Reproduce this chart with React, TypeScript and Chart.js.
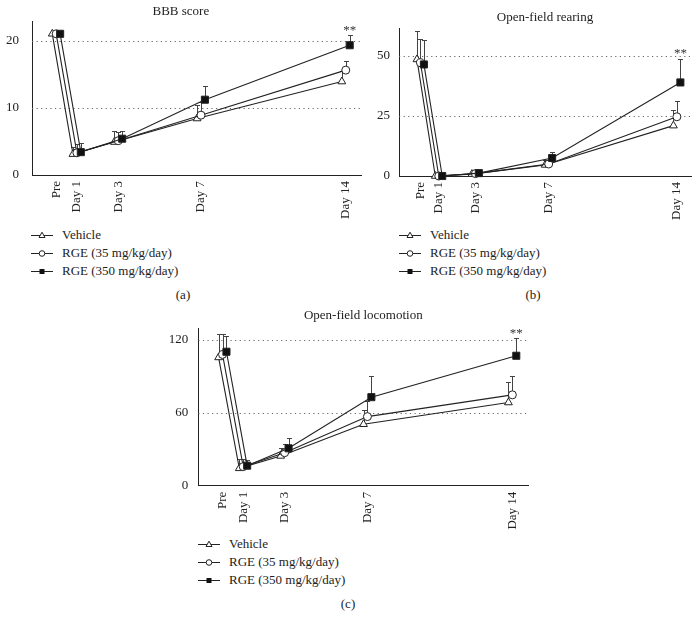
import React, { useEffect, useRef } from "react";
import { Chart, registerables } from "chart.js";

Chart.register(...registerables);

const FONT = "'Liberation Serif', 'Times New Roman', serif";
const INK = "#222";

// ---------- data ----------
const dayLabels = ["Pre", "Day 1", "Day 3", "Day 7", "Day 14"];
const dayValues = [0, 1, 3, 7, 14];
const seriesNames = ["Vehicle", "RGE (35 mg/kg/day)", "RGE (350 mg/kg/day)"];
const dodge = [-0.19, 0, 0.19];

// (a) BBB score
const bbbVehicle = [21.0, 3.1, 4.9, 8.4, 13.9];
const bbbVehicleErr = [0, 1.1, 1.7, 2.0, 1.6];
const bbbLow = [21.0, 3.3, 5.1, 8.9, 15.6];
const bbbLowErr = [0, 1.3, 1.3, 1.9, 1.3];
const bbbHigh = [21.0, 3.4, 5.4, 11.2, 19.3];
const bbbHighErr = [0, 1.4, 1.1, 2.0, 1.5];
const bbbTicks = [0, 10, 20];

// (b) Open-field rearing
const rearVehicle = [48.6, 0, 0.8, 4.6, 21.0];
const rearVehicleErr = [11.9, 0, 0.8, 2.2, 6.5];
const rearLow = [47.2, 0, 1.0, 5.0, 24.7];
const rearLowErr = [9.8, 0, 0.8, 1.5, 6.4];
const rearHigh = [46.5, 0, 1.2, 7.5, 39.0];
const rearHighErr = [10.2, 0, 0.8, 2.5, 9.8];
const rearTicks = [0, 25, 50];

// (c) Open-field locomotion
const locoVehicle = [105.6, 14.3, 24.5, 50.6, 68.5];
const locoVehicleErr = [19.3, 7.5, 6.8, 11.8, 16.8];
const locoLow = [108.1, 15.7, 27.2, 56.9, 74.8];
const locoLowErr = [16.8, 6.1, 7.2, 13.2, 15.9];
const locoHigh = [110.3, 16.5, 30.8, 72.9, 107.0];
const locoHighErr = [12.7, 4.7, 8.8, 17.8, 14.3];
const locoTicks = [0, 60, 120];

// significance marks: [series index, day index, text]
const sigMarks: [number, number, string][] = [[2, 4, "**"]];

// ---------- styles ----------
const markerStyle = ["triangle", "circle", "rect"];
const markerRadius = [4.5, 4, 5];
const markerFill = ["#fff", "#fff", "#111"];

type Spec = {
  title: string;
  caption: string;
  values: number[][];
  errors: number[][];
  ticks: number[];
  yMax: number;
  left: number;
  top: number;
  w: number;
  h: number;
  yAxisW: number;
  padRight: number;
  titleTop: number;
  titleBottom: number;
  titleFull: boolean;
  xAxisH: number;
  yPad: number;
  legendX: number;
  legendTextX: number;
  legendY: number;
  capX: number;
  capY: number;
};

const panels: Spec[] = [
  {
    title: "BBB score", caption: "(a)",
    values: [bbbVehicle, bbbLow, bbbHigh],
    errors: [bbbVehicleErr, bbbLowErr, bbbHighErr],
    ticks: bbbTicks, yMax: 22.8,
    left: 0, top: 0, w: 370, h: 225,
    yAxisW: 32, padRight: 8.3, titleTop: 4, titleBottom: 2.1, titleFull: true,
    xAxisH: 50, yPad: 13,
    legendX: 31, legendTextX: 62, legendY: 234.5, capX: 183, capY: 296,
  },
  {
    title: "Open-field rearing", caption: "(b)",
    values: [rearVehicle, rearLow, rearHigh],
    errors: [rearVehicleErr, rearLowErr, rearHighErr],
    ticks: rearTicks, yMax: 61.7,
    left: 370, top: 0, w: 330, h: 225,
    yAxisW: 29, padRight: 9, titleTop: 10, titleBottom: 2.4, titleFull: false,
    xAxisH: 49, yPad: 9,
    legendX: 399, legendTextX: 430, legendY: 234.5, capX: 533, capY: 296,
  },
  {
    title: "Open-field locomotion", caption: "(c)",
    values: [locoVehicle, locoLow, locoHigh],
    errors: [locoVehicleErr, locoLowErr, locoHighErr],
    ticks: locoTicks, yMax: 129.6,
    left: 160, top: 300, w: 380, h: 235,
    yAxisW: 38.3, padRight: 11.7, titleTop: 8.2, titleBottom: 4.5, titleFull: false,
    xAxisH: 49.3, yPad: 10,
    legendX: 198, legendTextX: 229, legendY: 544, capX: 348, capY: 605,
  },
];

function Panel({ spec }: { spec: Spec }) {
  const ref = useRef<HTMLCanvasElement>(null);

  useEffect(() => {
    const canvas = ref.current!;
    const datasets = spec.values.map((vals, s) => ({
      label: seriesNames[s],
      data: dayValues.map((d, i) => ({ x: d + dodge[s], y: vals[i] })),
      borderColor: INK,
      borderWidth: 1.1,
      backgroundColor: markerFill[s],
      pointStyle: markerStyle[s] as any,
      pointRadius: markerRadius[s],
      pointBorderColor: INK,
      pointBackgroundColor: markerFill[s],
      pointBorderWidth: 1,
      tension: 0,
      fill: false,
      order: 2 - s,
      clip: false as any,
    }));

    const gridPlugin = {
      id: "dotGrid",
      beforeDatasetsDraw(chart: any) {
        const { ctx, chartArea, scales } = chart;
        const y = scales.y;
        ctx.save();
        ctx.strokeStyle = "#666";
        ctx.lineWidth = 1;
        ctx.setLineDash([1.2, 3.4]);
        spec.ticks.forEach((t) => {
          if (t === 0) return;
          const py = Math.round(y.getPixelForValue(t)) + 0.5;
          ctx.beginPath();
          ctx.moveTo(chartArea.left, py);
          ctx.lineTo(chartArea.right, py);
          ctx.stroke();
        });
        ctx.restore();
      },
    };

    const errPlugin = {
      id: "errBars",
      beforeDatasetsDraw(chart: any) {
        const { ctx, scales } = chart;
        const { x, y } = scales;
        ctx.save();
        ctx.strokeStyle = "#444";
        ctx.lineWidth = 1;
        spec.errors.forEach((errs, s) => {
          errs.forEach((e, i) => {
            if (!e) return;
            const v = spec.values[s][i];
            const px = Math.round(x.getPixelForValue(dayValues[i] + dodge[s])) + 0.5;
            const y0 = y.getPixelForValue(v);
            const y1 = Math.round(y.getPixelForValue(v + e)) + 0.5;
            ctx.beginPath();
            ctx.moveTo(px, y0);
            ctx.lineTo(px, y1);
            ctx.moveTo(px - 2.5, y1);
            ctx.lineTo(px + 2.5, y1);
            ctx.stroke();
          });
        });
        ctx.restore();
      },
      afterDatasetsDraw(chart: any) {
        const { ctx, scales } = chart;
        const { x, y } = scales;
        ctx.save();
        ctx.fillStyle = "#333";
        ctx.font = `13px ${FONT}`;
        ctx.textAlign = "center";
        ctx.textBaseline = "alphabetic";
        sigMarks.forEach(([s, i, txt]) => {
          const v = spec.values[s][i] + spec.errors[s][i];
          const px = x.getPixelForValue(dayValues[i] + dodge[s]);
          const py = y.getPixelForValue(v);
          ctx.fillText(txt, px, py - 1.5);
        });
        ctx.restore();
      },
    };

    const chart = new Chart(canvas, {
      type: "line",
      data: { datasets: datasets as any },
      options: {
        animation: false,
        responsive: false,
        maintainAspectRatio: false,
        devicePixelRatio: 1,
        layout: { padding: { left: 0, right: spec.padRight, top: 0, bottom: 0 } },
        plugins: {
          legend: { display: false },
          tooltip: { enabled: false },
          title: {
            display: true,
            text: spec.title,
            fullSize: spec.titleFull,
            color: INK,
            font: { family: FONT, size: 13, weight: "normal" as any, lineHeight: 1.2 },
            padding: { top: spec.titleTop, bottom: spec.titleBottom },
          },
        },
        scales: {
          x: {
            type: "linear",
            min: -1.17,
            max: 14.77,
            afterBuildTicks: (sc: any) => {
              sc.ticks = dayValues.map((v) => ({ value: v }));
            },
            afterFit: (sc: any) => {
              sc.height = spec.xAxisH;
            },
            grid: { display: false, drawTicks: false },
            border: { display: true, color: INK, width: 1 },
            ticks: {
              autoSkip: false,
              minRotation: 90,
              maxRotation: 90,
              padding: 6,
              color: INK,
              font: { family: FONT, size: 13 },
              callback: (_v: any, i: number) => dayLabels[i],
            },
          },
          y: {
            type: "linear",
            min: 0,
            max: spec.yMax,
            afterBuildTicks: (sc: any) => {
              sc.ticks = spec.ticks.map((v) => ({ value: v }));
            },
            afterFit: (sc: any) => {
              sc.width = spec.yAxisW;
            },
            grid: { display: false, drawTicks: false },
            border: { display: true, color: INK, width: 1 },
            ticks: {
              padding: spec.yPad,
              color: INK,
              font: { family: FONT, size: 13 },
            },
          },
        },
      },
      plugins: [gridPlugin, errPlugin],
    });
    return () => chart.destroy();
  }, []);

  return (
    <canvas
      ref={ref}
      width={spec.w}
      height={spec.h}
      style={{ position: "absolute", left: spec.left, top: spec.top, width: spec.w, height: spec.h }}
    />
  );
}

function LegendSymbol({ s }: { s: number }) {
  return (
    <svg width={22} height={10} style={{ display: "block" }}>
      <line x1={0} y1={5.5} x2={22} y2={5.5} stroke={INK} strokeWidth={1} />
      {s === 0 && <polygon points="11,2.2 14,7.5 8,7.5" fill="#fff" stroke={INK} strokeWidth={1} />}
      {s === 1 && <circle cx={11} cy={5.5} r={2.8} fill="#fff" stroke={INK} strokeWidth={1} />}
      {s === 2 && <rect x={8.5} y={3} width={5} height={5} fill="#111" />}
    </svg>
  );
}

function Legend({ spec }: { spec: Spec }) {
  return (
    <>
      {seriesNames.map((name, s) => (
        <div
          key={name}
          style={{
            position: "absolute",
            left: spec.legendX,
            top: spec.legendY + s * 18 - 9,
            height: 18,
            display: "flex",
            alignItems: "center",
            whiteSpace: "nowrap",
          }}
        >
          <LegendSymbol s={s} />
          <span
            style={{
              marginLeft: spec.legendTextX - spec.legendX - 22,
              font: `13px ${FONT}`,
              color: INK,
              lineHeight: "18px",
            }}
          >
            {name}
          </span>
        </div>
      ))}
      <div
        style={{
          position: "absolute",
          left: spec.capX - 30,
          width: 60,
          top: spec.capY - 9,
          height: 18,
          lineHeight: "18px",
          textAlign: "center",
          font: `13px ${FONT}`,
          color: INK,
        }}
      >
        {spec.caption}
      </div>
    </>
  );
}

export default function App() {
  return (
    <div
      style={{
        position: "absolute",
        left: 0,
        top: 0,
        width: 700,
        height: 631,
        background: "#fff",
        overflow: "hidden",
      }}
    >
      {panels.map((p) => (
        <React.Fragment key={p.caption}>
          <Panel spec={p} />
          <Legend spec={p} />
        </React.Fragment>
      ))}
    </div>
  );
}
